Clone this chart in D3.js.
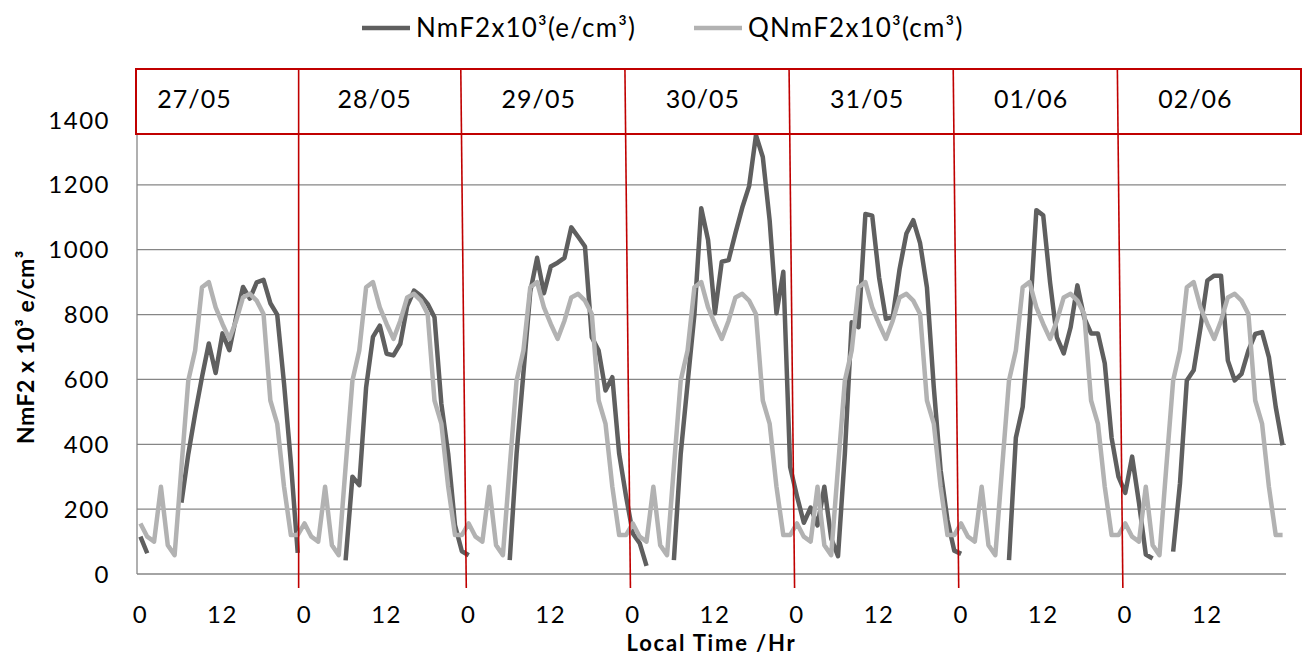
<!DOCTYPE html>
<html>
<head>
<meta charset="utf-8">
<script src="https://cdn.jsdelivr.net/npm/d3@7"></script>
<style>
  body { margin: 0; background: #fff; }
  text { font-family: Lato, "Open Sans", sans-serif; fill: #000; }
</style>
</head>
<body>
<div class="graph"></div>
<script>
// Data (hourly, 7 days)
var days = ["27/05", "28/05", "29/05", "30/05", "31/05", "01/06", "02/06"];
var hourTicks = [0, 12];
var yTicks = [0, 200, 400, 600, 800, 1000, 1200, 1400];

var nmf2 = [
  115, 64, null, null, null, null, 220, 370, 494, 607, 711, 620, 742, 690, 792, 885, 849, 899, 907, 835, 800, 587, 344, 65,
  null, null, null, null, null, null, 42, 300, 274, 576, 731, 766, 679, 674, 710, 826, 874, 858, 833, 792, 525, 371, 150, 70,
  58, null, null, null, null, null, 43, 371, 620, 870, 975, 866, 948, 960, 975, 1069, 1040, 1010, 730, 689, 566, 607, 371, 240,
  125, 95, 25, null, null, null, 43, 371, 587, 800, 1128, 1030, 804, 963, 968, 1051, 1130, 1196, 1353, 1286, 1091, 804, 932, 330,
  240, 158, 205, 150, 269, 110, 55, 371, 776, 761, 1110, 1105, 915, 787, 792, 940, 1050, 1091, 1020, 884, 576, 320, 166, 72,
  62, null, null, null, null, null, null, 43, 420, 515, 780, 1122, 1106, 900, 730, 680, 760, 890, 790, 742, 742, 650, 420, 300,
  250, 362, 220, 60, 48, null, null, 69, 280, 597, 628, 760, 905, 920, 920, 658, 597, 617, 689, 740, 746, 669, 515, 397
];

var qnmf2 = [
  156, 115, 100, 269, 89, 58, 330, 597, 689, 884, 900, 822, 771, 725, 781, 853, 864, 843, 802, 535, 464, 269, 120, 120,
  156, 115, 100, 269, 89, 58, 330, 597, 689, 884, 900, 822, 771, 725, 781, 853, 864, 843, 802, 535, 464, 269, 120, 120,
  156, 115, 100, 269, 89, 58, 330, 597, 689, 884, 900, 822, 771, 725, 781, 853, 864, 843, 802, 535, 464, 269, 120, 120,
  156, 115, 100, 269, 89, 58, 330, 597, 689, 884, 900, 822, 771, 725, 781, 853, 864, 843, 802, 535, 464, 269, 120, 120,
  156, 115, 100, 269, 89, 58, 330, 597, 689, 884, 900, 822, 771, 725, 781, 853, 864, 843, 802, 535, 464, 269, 120, 120,
  156, 115, 100, 269, 89, 58, 330, 597, 689, 884, 900, 822, 771, 725, 781, 853, 864, 843, 802, 535, 464, 269, 120, 120,
  156, 115, 100, 269, 89, 58, 330, 597, 689, 884, 900, 822, 771, 725, 781, 853, 864, 843, 802, 535, 464, 269, 120, 120
];

var seriesNames = ["NmF2x10³(e/cm³)", "QNmF2x10³(cm³)"];

// Configuration
var darkColour = "#5f5f5f";
var lightColour = "#b2b2b2";
var gridColour = "#868686";
var redColour = "#c00000";

var width = 1303,
    height = 657;
var plotLeft = 137, plotRight = 1286, plotTop = 120, plotBottom = 574;
var hoursPerDay = 24;

var x = d3.scaleBand()
    .domain(d3.range(nmf2.length))
    .range([plotLeft, plotRight])
    .padding(0);

var y = d3.scaleLinear()
    .domain([0, 1400])
    .range([plotBottom, plotTop]);

function cx(i) { return x(i) + x.bandwidth() / 2; }

var svg = d3.select('.graph').append("svg")
    .attr("width", width)
    .attr("height", height)
    .style("display", "block");

// gridlines
svg.append("g").selectAll("line")
    .data(yTicks)
    .enter().append("line")
    .attr("x1", plotLeft).attr("x2", plotRight)
    .attr("y1", function(d) { return y(d); })
    .attr("y2", function(d) { return y(d); })
    .style("stroke", gridColour)
    .style("stroke-width", 1.3);

// y axis line
svg.append("line")
    .attr("x1", plotLeft).attr("x2", plotLeft)
    .attr("y1", plotTop).attr("y2", plotBottom)
    .style("stroke", gridColour)
    .style("stroke-width", 1.3);

// y tick labels
svg.append("g").selectAll("text")
    .data(yTicks)
    .enter().append("text")
    .attr("x", 110)
    .attr("y", function(d) { return y(d); })
    .attr("dy", "0.36em")
    .attr("text-anchor", "end")
    .style("font-size", "24px")
    .style("letter-spacing", "1.5px")
    .text(function(d) { return d; });

// x tick labels: 0 and 12 of each day
var xLabels = [];
days.forEach(function(dd, di) {
    hourTicks.forEach(function(h) { xLabels.push({i: di * hoursPerDay + h, h: h}); });
});
svg.append("g").selectAll("text")
    .data(xLabels)
    .enter().append("text")
    .attr("x", function(d) { return cx(d.i); })
    .attr("y", 614)
    .attr("dy", "0.36em")
    .attr("text-anchor", "middle")
    .style("font-size", "24px")
    .style("letter-spacing", "1.5px")
    .text(function(d) { return d.h; });

// series lines
var line = d3.line()
    .defined(function(d) { return d !== null; })
    .x(function(d, i) { return cx(i); })
    .y(function(d) { return y(d); });

svg.append("path")
    .datum(nmf2)
    .attr("d", line)
    .style("fill", "none")
    .style("stroke", darkColour)
    .style("stroke-width", 4.5)
    .style("stroke-linejoin", "round");

svg.append("path")
    .datum(qnmf2)
    .attr("d", line)
    .style("fill", "none")
    .style("stroke", lightColour)
    .style("stroke-width", 4.5)
    .style("stroke-linejoin", "round");

// red date box
svg.append("rect")
    .attr("x", 136).attr("y", 69)
    .attr("width", 1165).attr("height", 65)
    .style("fill", "#fff")
    .style("stroke", redColour)
    .style("stroke-width", 2);

// red day separators (hand drawn, slightly slanted)
svg.append("g").selectAll("line")
    .data(d3.range(1, days.length))
    .enter().append("line")
    .attr("x1", function(d) { return x(d * hoursPerDay) - (d === 1 ? 2.5 : 4.5); })
    .attr("y1", 69)
    .attr("x2", function(d) { return x(d * hoursPerDay) + (d === 1 ? -2.5 : 1); })
    .attr("y2", 588)
    .style("stroke", redColour)
    .style("stroke-width", 1.6);

svg.append("g").selectAll("text")
    .data(days)
    .enter().append("text")
    .attr("x", function(d, i) { return cx(i * hoursPerDay + 12) - (i === 0 ? 28 : 12); })
    .attr("y", 108)
    .attr("text-anchor", "middle")
    .style("font-size", "25px")
    .style("letter-spacing", "1px")
    .text(function(d) { return d; });

// axis titles
svg.append("text")
    .attr("x", (plotLeft + plotRight) / 2)
    .attr("y", 651)
    .attr("text-anchor", "middle")
    .style("font-size", "22px")
    .style("font-weight", "bold")
    .style("letter-spacing", "1.8px")
    .text("Local Time /Hr");

svg.append("text")
    .attr("transform", "translate(34," + ((plotTop + plotBottom) / 2) + ") rotate(-90)")
    .attr("text-anchor", "middle")
    .style("font-size", "23px")
    .style("font-weight", "bold")
    .style("letter-spacing", "0.5px")
    .text("NmF2 x 10³ e/cm³");

// legend
var legend = svg.append("g");
var legendItems = [
    {name: seriesNames[0], colour: darkColour, x0: 362},
    {name: seriesNames[1], colour: lightColour, x0: 694}
];
legendItems.forEach(function(d) {
    legend.append("line")
        .attr("x1", d.x0).attr("x2", d.x0 + 48)
        .attr("y1", 28).attr("y2", 28)
        .style("stroke", d.colour)
        .style("stroke-width", 4.5);
    legend.append("text")
        .attr("x", d.x0 + 54)
        .attr("y", 28)
        .attr("dy", "0.36em")
        .style("font-size", "26px")
        .style("letter-spacing", "1.2px")
        .text(d.name);
});
</script>
</body>
</html>
